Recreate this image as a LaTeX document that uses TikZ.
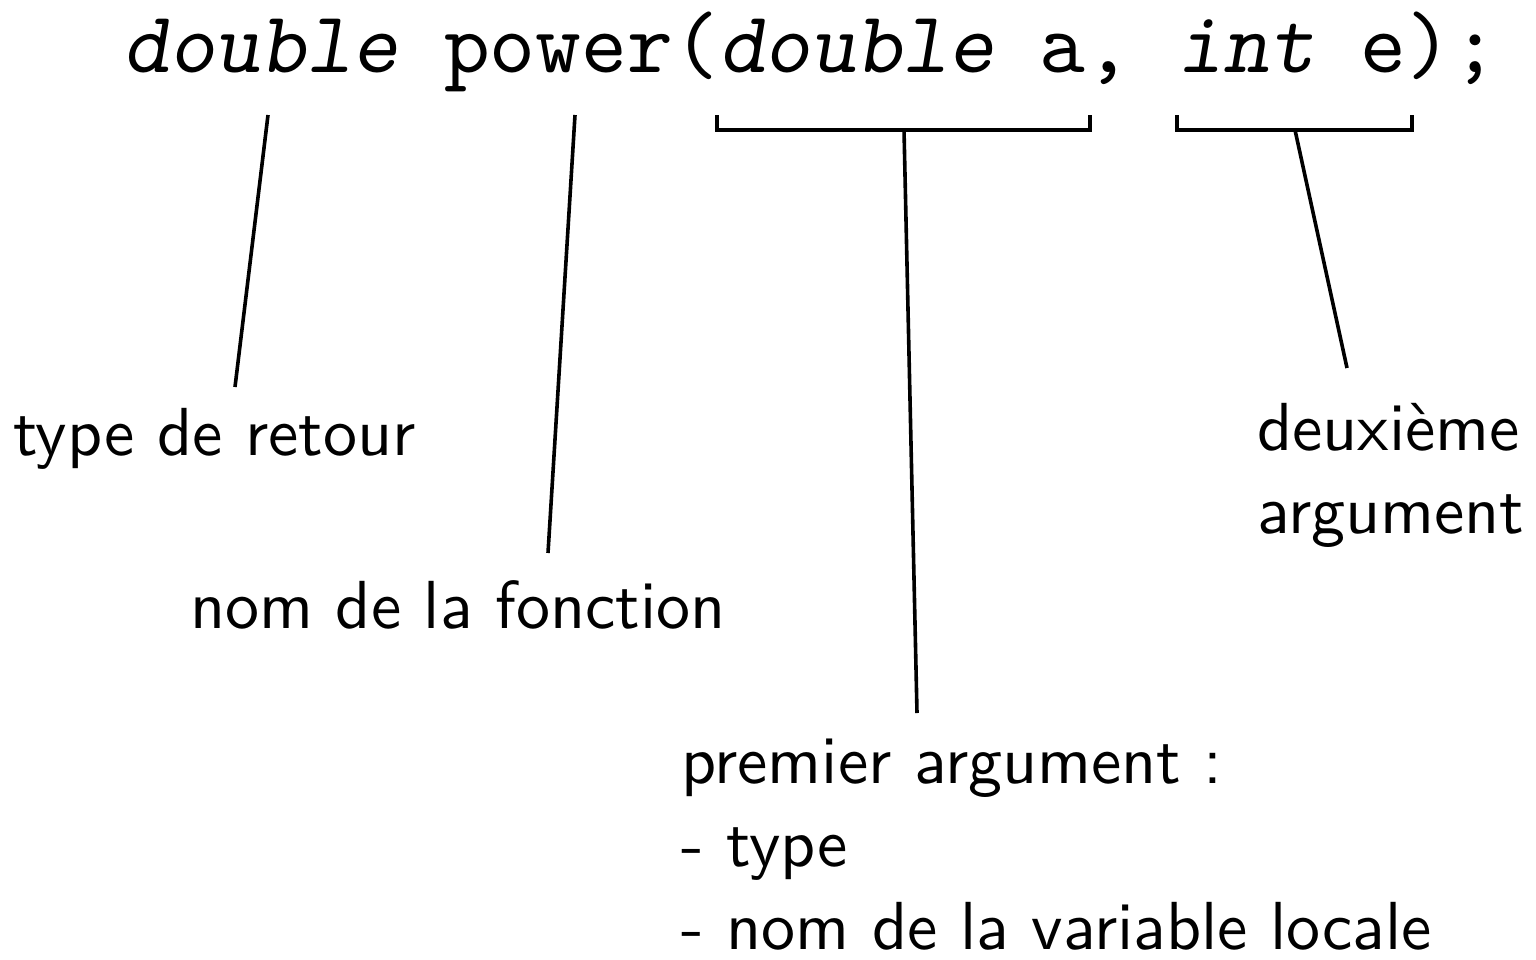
\documentclass[tikz,border=0pt]{standalone}
\usepackage{fontspec}
\newfontfamily\lblfont{lmsans10-regular.otf}
\newfontfamily\codefont{lmmono10-regular.otf}[ItalicFont=lmmonoslant10-regular.otf]
\begin{document}
\begin{tikzpicture}[x=1pt,y=-1pt,
  codetext/.style={anchor=base west,inner sep=0pt,font=\codefont\fontsize{87.3}{100}\selectfont},
  lbl/.style={anchor=base west,inner sep=0pt,font=\lblfont\fontsize{68}{83}\selectfont},
  conn/.style={line width=3.6pt,line cap=butt,line join=miter}]
\useasboundingbox (0,0) rectangle (1536,959);
\node[codetext] (code) at (123,72) {\textit{double} power(\textit{double} a, \textit{int} e);};
% labels
\node[lbl] (ret) at (13,455) {type de retour};
\node[lbl] (nom) at (190,628) {nom de la fonction};
\node[lbl] (deuxA) at (1257,450) {deuxième};
\node[lbl] (deuxB) at (1257,533) {argument};
\node[lbl] (premA) at (681,783) {premier argument :};
\node[lbl] (premB) at (681,866) {- type};
\node[lbl] (premC) at (681,949) {- nom de la variable locale};
% connector end points
\coordinate (r1) at (268,115); \coordinate (r2) at (235,387);
\coordinate (n1) at (575,115); \coordinate (n2) at (548,553);
\coordinate (b1l) at (717,115); \coordinate (b1r) at (1090,115);
\coordinate (b1m) at (904,130); \coordinate (b1e) at (917,713);
\coordinate (b2l) at (1177,115); \coordinate (b2r) at (1412,115);
\coordinate (b2m) at (1295,130); \coordinate (b2e) at (1347,368);
\draw[conn] (r1) -- (r2);
\draw[conn] (n1) -- (n2);
\draw[conn] (b1l) |- (b1m) -| (b1r);
\draw[conn] (b1m) -- (b1e);
\draw[conn] (b2l) |- (b2m) -| (b2r);
\draw[conn] (b2m) -- (b2e);
\end{tikzpicture}
\end{document}
